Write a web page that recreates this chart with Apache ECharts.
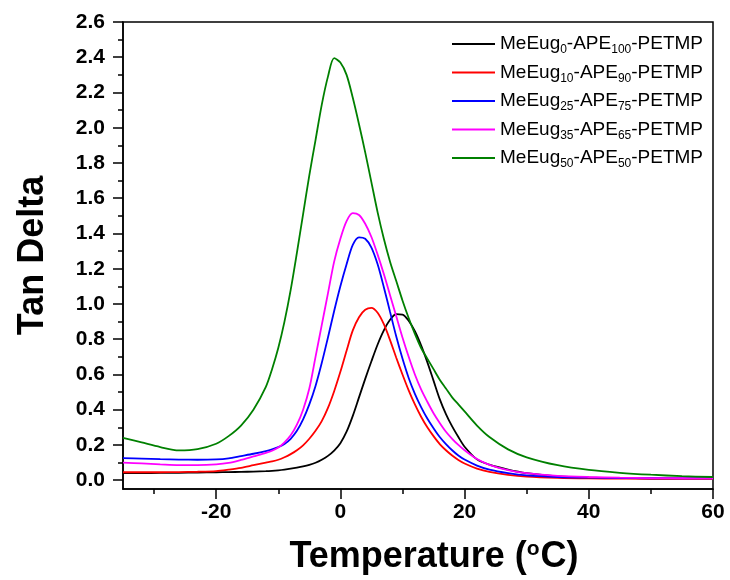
<!DOCTYPE html>
<html>
<head>
<meta charset="utf-8">
<script src="https://cdn.jsdelivr.net/npm/echarts@6/dist/echarts.min.js"></script>
<style>
html,body{margin:0;padding:0;background:#fff;}
#chart{width:730px;height:580px;}
</style>
</head>
<body>
<div id="chart"></div>
<script>
const temps = [-35,-32,-29,-26,-23,-20,-18,-16,-14,-12,-11,-10,-9,-8,-7,-6,-5,-4,-3,-2,-1,0,1,2,3,4,5,6,7,8,9,10,11,12,13,14,15,16,17,18,19,20,22,24,27,30,35,40,45,50,55,60];

const seriesNames = ['MeEug0-APE100-PETMP','MeEug10-APE90-PETMP','MeEug25-APE75-PETMP','MeEug35-APE65-PETMP','MeEug50-APE50-PETMP'];
const meEugSub = ['0','10','25','35','50'];
const apeSub = ['100','90','75','65','50'];
const seriesColors = ['#000000','#ff0000','#0000ff','#ff00ff','#008000'];

const black = [0.04,0.04,0.041,0.042,0.043,0.045,0.046,0.047,0.049,0.051,0.053,0.056,0.06,0.065,0.071,0.078,0.087,0.099,0.116,0.138,0.168,0.21,0.275,0.365,0.47,0.575,0.675,0.77,0.85,0.91,0.942,0.94,0.905,0.845,0.765,0.67,0.565,0.46,0.375,0.305,0.245,0.19,0.118,0.088,0.06,0.04,0.022,0.015,0.012,0.01,0.01,0.01];
const red = [0.045,0.045,0.045,0.046,0.048,0.052,0.06,0.07,0.085,0.10,0.107,0.116,0.13,0.148,0.17,0.198,0.235,0.28,0.335,0.41,0.505,0.615,0.735,0.85,0.925,0.967,0.978,0.95,0.885,0.795,0.695,0.60,0.51,0.43,0.36,0.30,0.25,0.205,0.17,0.14,0.115,0.095,0.066,0.047,0.03,0.02,0.013,0.01,0.009,0.008,0.008,0.008];
const blue = [0.125,0.122,0.119,0.117,0.116,0.118,0.124,0.137,0.15,0.165,0.175,0.188,0.206,0.235,0.28,0.345,0.43,0.535,0.665,0.81,0.96,1.10,1.225,1.335,1.378,1.37,1.32,1.225,1.095,0.955,0.815,0.69,0.58,0.49,0.415,0.35,0.295,0.245,0.205,0.17,0.14,0.117,0.083,0.06,0.04,0.027,0.018,0.014,0.012,0.011,0.01,0.01];
const magenta = [0.10,0.095,0.09,0.086,0.086,0.09,0.098,0.115,0.135,0.155,0.167,0.185,0.215,0.255,0.315,0.40,0.52,0.70,0.88,1.06,1.24,1.37,1.47,1.515,1.505,1.455,1.38,1.28,1.17,1.05,0.93,0.81,0.70,0.60,0.515,0.445,0.38,0.325,0.275,0.235,0.20,0.17,0.12,0.087,0.057,0.04,0.025,0.018,0.014,0.012,0.011,0.01];
const green = [0.24,0.214,0.188,0.169,0.176,0.207,0.25,0.31,0.40,0.53,0.63,0.75,0.90,1.08,1.29,1.51,1.73,1.93,2.13,2.29,2.395,2.37,2.30,2.17,2.02,1.86,1.69,1.52,1.37,1.24,1.13,1.02,0.92,0.83,0.75,0.69,0.63,0.57,0.52,0.47,0.43,0.39,0.31,0.245,0.175,0.13,0.085,0.058,0.042,0.031,0.023,0.018];
const allValues = [black, red, blue, magenta, green];

const xMajorTicks = [-20,0,20,40,60];
const xMinorTicks = [-30,-10,10,30,50];
const yMajorTicks = [0,0.2,0.4,0.6,0.8,1.0,1.2,1.4,1.6,1.8,2.0,2.2,2.4,2.6];
const yMinorTicks = [0.1,0.3,0.5,0.7,0.9,1.1,1.3,1.5,1.7,1.9,2.1,2.3,2.5];

const FONT = 'Arial, "Liberation Sans", sans-serif';
const chart = echarts.init(document.getElementById('chart'), null, {renderer:'canvas'});

const series = allValues.map((vals, i) => ({
  name: seriesNames[i],
  type: 'line',
  xAxisIndex: 0,
  yAxisIndex: 0,
  data: temps.map((t, j) => [t, vals[j]]),
  smooth: 0.3,
  showSymbol: false,
  symbol: 'none',
  lineStyle: {color: seriesColors[i], width: 1.8},
  itemStyle: {color: seriesColors[i]},
  z: 2 + i
}));

const commonX = {type:'value', min:-35, max:60, gridIndex:0, splitLine:{show:false}};
const commonY = {type:'value', min:-0.05, max:2.6, gridIndex:0, splitLine:{show:false}};

chart.setOption({
  animation: false,
  backgroundColor: '#ffffff',
  grid: {left:123, right:17, top:22, bottom:90, show:true, borderColor:'#000', borderWidth:1.5, backgroundColor:'transparent'},
  legend: {
    data: seriesNames,
    orient: 'vertical',
    left: 452, top: 34,
    padding: 0,
    icon: 'rect',
    itemWidth: 43, itemHeight: 2,
    itemGap: 6.5,
    formatter: function(name){
      const i = seriesNames.indexOf(name);
      return '{a|MeEug}{s|' + meEugSub[i] + '}{a|-APE}{s|' + apeSub[i] + '}{a|-PETMP}';
    },
    textStyle: {
      fontFamily: FONT, color:'#000',
      rich: {
        a: {fontSize: 19, fontFamily: FONT, color:'#000', lineHeight: 24},
        s: {fontSize: 12, fontFamily: FONT, color:'#000', lineHeight: 24, verticalAlign:'bottom', padding:[10,0,0,0]}
      }
    }
  },
  xAxis: [
    Object.assign({}, commonX, {
      position:'bottom',
      axisLine:{show:true, onZero:false, lineStyle:{color:'#000', width:1.5}},
      axisTick:{show:true, inside:false, length:10, customValues:xMajorTicks, lineStyle:{color:'#000', width:1.5}},
      axisLabel:{show:true, customValues:xMajorTicks, margin:13, color:'#000', fontFamily:FONT, fontWeight:'bold', fontSize:21},
      name:'Temperature ({o|o}C)',
      nameLocation:'middle', nameGap:50,
      nameTextStyle:{fontFamily:FONT, fontWeight:'bold', fontSize:36, color:'#000', padding:[0,0,0,32],
        rich:{o:{fontSize:21, fontFamily:FONT, fontWeight:'bold', color:'#000', verticalAlign:'top', padding:[0,1,15,0]}}}
    }),
    Object.assign({}, commonX, {
      position:'bottom',
      axisLine:{show:false, onZero:false},
      axisTick:{show:true, inside:false, length:5, customValues:xMinorTicks, lineStyle:{color:'#000', width:1.5}},
      axisLabel:{show:false}
    })
  ],
  yAxis: [
    Object.assign({}, commonY, {
      position:'left',
      axisLine:{show:true, onZero:false, lineStyle:{color:'#000', width:1.5}},
      axisTick:{show:true, inside:false, length:10, customValues:yMajorTicks, lineStyle:{color:'#000', width:1.5}},
      axisLabel:{show:true, customValues:yMajorTicks, margin:18, color:'#000', fontFamily:FONT, fontWeight:'bold', fontSize:21,
        formatter: v => Number(v).toFixed(1)},
      name:'Tan Delta',
      nameLocation:'middle', nameGap:72, nameRotate:90,
      nameTextStyle:{fontFamily:FONT, fontWeight:'bold', fontSize:36, color:'#000'}
    }),
    Object.assign({}, commonY, {
      position:'left',
      axisLine:{show:false, onZero:false},
      axisTick:{show:true, inside:false, length:5, customValues:yMinorTicks, lineStyle:{color:'#000', width:1.5}},
      axisLabel:{show:false}
    })
  ],
  series: series
});
</script>
</body>
</html>
